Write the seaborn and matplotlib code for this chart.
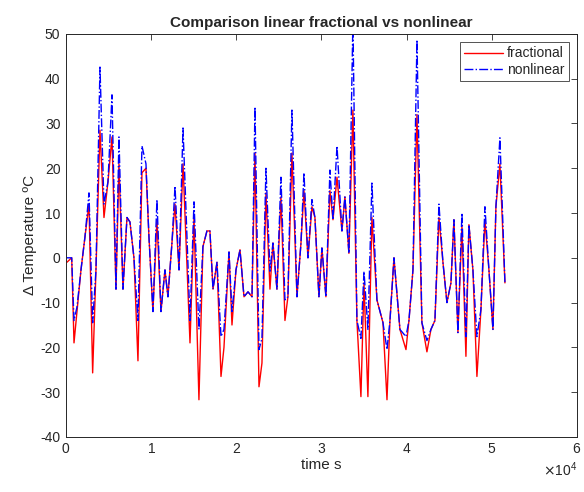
import matplotlib
matplotlib.use("Agg")
import matplotlib.pyplot as plt
import seaborn as sns
import pandas as pd

# ======================
# DATA
# ======================
time_s = [100, 670, 940, 1290, 1760, 2230, 2700, 3130, 3520, 3990,
          4460, 4930, 5400, 5870, 6220, 6690, 7160, 7510, 7980, 8450,
          8920, 9390, 9740, 10210, 10680, 11150, 11620, 11970, 12440, 12800,
          13270, 13740, 14560, 15030, 15610, 16080, 16550, 16900, 17260, 17730,
          18200, 18550, 19140, 19490, 19960, 20430, 20900, 21370, 21840, 22190,
          22660, 23010, 23480, 23950, 24300, 24770, 25240, 25710, 26060, 26530,
          27120, 27590, 27940, 28410, 28880, 29230, 29700, 30050, 30520, 30990,
          31350, 31820, 32400, 32750, 33220, 33690, 34160, 34630, 34990, 35450,
          35920, 36510, 37220, 37690, 38040, 38510, 39210, 39920, 40270, 40740,
          41210, 41790, 42380, 42850, 43320, 43790, 44260, 44730, 45200, 45550,
          46020, 46490, 46960, 47310, 47780, 48250, 48720, 49190, 49660, 50130,
          50480, 50950, 51540]

fractional = [-1, 0, -19, -12, -2.7, 4.7, 12, -25.7, -2.7, 28.5,
              9, 17, 27, -7, 21, -7, 9, 8, 0, -23,
              19, 20, 4.7, -12, 8.5, -12, -2.7, -8.7, 3.3, 12,
              -2.7, 21, -19, 9, -31.7, 2.5, 6, 6, -7, -1,
              -26.5, -20, 1.3, -15, -2.7, 1.8, -8.7, -7.6, -8.7, 23.4,
              -28.8, -23.5, 14.5, -7, 3.3, -7, 13.6, -14, -8.7, 23.4,
              -8.7, 3.3, 15, 0, 11.4, 9, -8.7, 2.2, -8.7, 15,
              8.5, 18, 6, 13.6, 1, 33, -14, -31, -5.6, -31,
              9, -9.4, -14.5, -31.7, -14, 0, -16, -20.5, -14, -2.7,
              32, -14.5, -21, -16, -14, 9, -1, -10, -5.6, 8.5,
              -16.7, 7, -22, 7.4, -2.7, -26.5, -11.6, 8.5, -2.7, -16,
              11.4, 21, -5.6]

nonlinear = [0, 0, -14, -11, -2.7, 4.7, 14.5, -14.5, -2.7, 42.6,
             12, 17, 36.4, -7, 27, -7, 9, 8, 0, -14,
             25, 21, 4.7, -12, 13, -12, -2.7, -8.7, 3.3, 16,
             -2.7, 29, -14, 12.5, -16, 2.5, 6, 6, -7, -1,
             -17.6, -16, 1.3, -12, -2.7, 1.8, -8.7, -7.6, -8.7, 33.7,
             -20.5, -18, 20, -3, 3.3, -7, 18, -9.4, -8.7, 33,
             -8.7, 3.3, 19, 0, 13, 9, -8.7, 2.2, -8.7, 19.6,
             8.5, 25, 6, 13.6, 1, 53, -14, -18, -3, -16,
             16.7, -9.4, -14.5, -20.5, -14, 0, -16, -17.6, -14, -2.7,
             48.7, -14.5, -18.5, -16, -14, 12, -1, -10, -5.6, 8.5,
             -16.7, 10, -17.6, 7.4, -2.7, -17.6, -11.6, 11.4, -2.7, -16,
             11.4, 26.8, -5.6]

df = pd.DataFrame({"time": time_s, "fractional": fractional, "nonlinear": nonlinear})

# ======================
# PLOT
# ======================
sns.set_style("white")
plt.rcParams["font.family"] = ["Liberation Sans", "DejaVu Sans"]
plt.rcParams["axes.unicode_minus"] = False

fig = plt.figure(figsize=(5.84, 4.92), dpi=100)
ax = fig.add_axes([0.113, 0.112, 0.875, 0.819])

sns.lineplot(data=df, x="time", y="fractional", color="red", linewidth=1.0,
             label="fractional", ax=ax)
sns.lineplot(data=df, x="time", y="nonlinear", color="blue", linewidth=1.0,
             linestyle="-.", label="nonlinear", ax=ax)

ax.set_xlim(0, 60000)
ax.set_ylim(-40, 50)
ax.set_yticks(range(-40, 51, 10))
ax.set_xticks(range(0, 60001, 10000))
ax.ticklabel_format(axis="x", style="sci", scilimits=(4, 4), useMathText=True)

gray = "#262626"
ax.tick_params(direction="in", top=True, right=True, length=4, width=0.6,
               colors=gray, labelsize=10, pad=4)
for s in ax.spines.values():
    s.set_color(gray)
    s.set_linewidth(0.7)
ax.xaxis.get_offset_text().set_fontsize(10)
ax.xaxis.get_offset_text().set_color(gray)

ax.set_title("Comparison linear fractional vs nonlinear", fontsize=11,
             fontweight="bold", pad=5)
ax.set_xlabel("time s", fontsize=11, color=gray, labelpad=1)
ax.set_ylabel("\u0394 Temperature \u00baC", fontsize=11, color=gray, labelpad=2)

leg = ax.legend(loc="upper right", fontsize=10, frameon=True, fancybox=False,
                handlelength=2.8, borderpad=0.3, labelspacing=0.2,
                handletextpad=0.3, borderaxespad=0.6)
leg.get_frame().set_edgecolor(gray)
leg.get_frame().set_linewidth(0.7)

fig.savefig("out.png", dpi=100, facecolor="white")
